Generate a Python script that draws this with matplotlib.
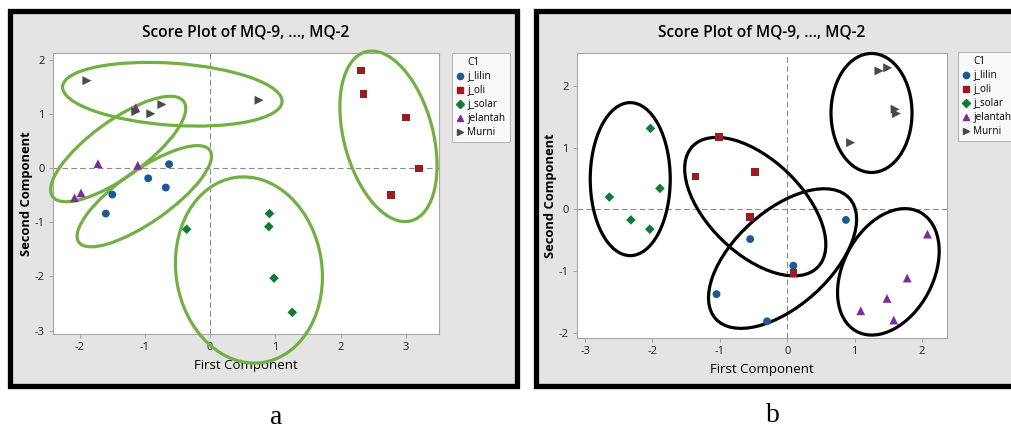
import matplotlib
matplotlib.use("Agg")
import matplotlib.pyplot as plt
from matplotlib.patches import Rectangle, Ellipse
from matplotlib.lines import Line2D
from matplotlib.transforms import ScaledTranslation

# ---- data: panel a -------------------------------------------------------
a_lilin_x = [-0.63, -0.95, -0.68, -1.50, -1.60]
a_lilin_y = [0.07, -0.19, -0.36, -0.49, -0.84]
a_oli_x = [2.31, 2.35, 3.00, 3.20, 2.77]
a_oli_y = [1.80, 1.36, 0.93, -0.01, -0.50]
a_solar_x = [-0.36, 0.91, 0.90, 0.98, 1.26]
a_solar_y = [-1.13, -0.84, -1.08, -2.03, -2.66]
a_jelantah_x = [-1.14, -1.72, -1.11, -1.98, -2.08]
a_jelantah_y = [1.11, 0.08, 0.05, -0.46, -0.55]
a_murni_x = [-1.89, -1.14, -0.91, -0.74, 0.75]
a_murni_y = [1.61, 1.04, 1.00, 1.17, 1.25]

# ---- data: panel b -------------------------------------------------------
b_lilin_x = [0.87, -0.55, 0.09, -1.05, -0.30]
b_lilin_y = [-0.17, -0.48, -0.91, -1.37, -1.81]
b_oli_x = [-1.01, -1.36, -0.48, -0.55, 0.09]
b_oli_y = [1.17, 0.53, 0.61, -0.12, -1.03]
b_solar_x = [-2.03, -2.64, -1.89, -2.32, -2.04]
b_solar_y = [1.31, 0.20, 0.34, -0.17, -0.32]
b_jelantah_x = [2.08, 1.78, 1.48, 1.09, 1.58]
b_jelantah_y = [-0.40, -1.11, -1.44, -1.64, -1.79]
b_murni_x = [1.36, 1.49, 1.60, 1.62, 0.94]
b_murni_y = [2.24, 2.29, 1.62, 1.55, 1.08]

groups = ["j_lilin", "j_oli", "j_solar", "jelantah", "Murni"]
title = "Score Plot of MQ-9, ..., MQ-2"

# group ellipses: centre (data), width/height (px), angle (deg)
ellipses_a = [(-0.58, 1.36, 220, 62, -4), (-1.41, 0.35, 162, 56, 36),
              (-1.01, -0.52, 160, 52, 35), (0.595, -1.88, 146, 187, 8.6),
              (2.735, 0.584, 89, 175, 15)]
ellipses_b = [(-2.33, 0.49, 80, 153, 0), (-0.475, 0.045, 174, 94, -44),
              (-0.07, -0.795, 180, 95, 42), (1.25, 1.56, 81, 119, 0),
              (1.50, -1.01, 90, 135, -28)]

styles = {
    "j_lilin": dict(marker="o", color="#1b5a94"),
    "j_oli": dict(marker="s", color="#9b1c1f"),
    "j_solar": dict(marker="D", color="#117a3b"),
    "jelantah": dict(marker="^", color="#7b2b9b"),
    "Murni": dict(marker=">", color="#4a4a4a"),
}
sizes = {"o": 32, "s": 30, "D": 24, "^": 40, ">": 42}

plt.rcParams["font.family"] = ["Open Sans", "DejaVu Sans"]

W, H = 1011, 428
fig = plt.figure(figsize=(W / 100, H / 100), dpi=100)
fig.patch.set_facecolor("white")


def box(x0, y0, x1, y1):
    return [x0 / W, 1 - y1 / H, (x1 - x0) / W, (y1 - y0) / H]


# grey panels with thick black frames
for (x0, y0, x1, y1) in [(10, 11, 517, 386), (536, 11, 1015, 386)]:
    r = box(x0, y0, x1, y1)
    fig.patches.append(Rectangle((r[0], r[1]), r[2], r[3], transform=fig.transFigure,
                                 facecolor="#e4e4e4", edgecolor="black", lw=3.8,
                                 zorder=-5))


def panel(ax, xs, ys, ells, ecolor, xlim, ylim, xticks, yticks):
    ax.set_facecolor("white")
    ax.axhline(0, color="#8a8a8a", lw=0.8, ls=(0, (5, 3)), zorder=1)
    ax.axvline(0, color="#8a8a8a", lw=0.8, ls=(0, (5, 3)), zorder=1)
    for (cx, cy, w, h, ang) in ells:
        tr = fig.dpi_scale_trans + ScaledTranslation(cx, cy, ax.transData)
        ax.add_patch(Ellipse((0, 0), w / 100, h / 100, angle=ang, transform=tr,
                             fill=False, edgecolor=ecolor, lw=2.3, clip_on=False,
                             zorder=3))
    for g, x, y in zip(groups, xs, ys):
        st = styles[g]
        ax.scatter(x, y, marker=st["marker"], s=sizes[st["marker"]], c=st["color"],
                   edgecolors="none", zorder=4, clip_on=False)
    ax.set_xlim(*xlim)
    ax.set_ylim(*ylim)
    ax.set_xticks(xticks)
    ax.set_yticks(yticks)
    ax.set_xticklabels([str(t) for t in xticks])
    ax.set_yticklabels([str(t) for t in yticks])
    ax.tick_params(labelsize=8, length=3, width=0.6, color="#999999",
                   labelcolor="#222222", pad=3)
    for s in ax.spines.values():
        s.set_color("#a8a8a8")
        s.set_linewidth(0.8)
    ax.set_title(title, fontsize=11.2, fontweight="semibold", pad=12)
    ax.set_xlabel("First Component", fontsize=9.5, labelpad=4)
    ax.set_ylabel("Second Component", fontsize=9.3, fontweight="bold", labelpad=1)


def legend(ax, x0, y0):
    handles = [Line2D([], [], ls="none", marker="none", label="C1")]
    for g in groups:
        st = styles[g]
        handles.append(Line2D([], [], ls="none", marker=st["marker"], color=st["color"],
                              markersize=4.5, label=g))
    leg = ax.legend(handles=handles, loc="upper left",
                    bbox_to_anchor=(x0 / W, 1 - y0 / H), bbox_transform=fig.transFigure,
                    fontsize=7.2, frameon=True, fancybox=False, borderpad=0.4,
                    labelspacing=0.3, handlelength=0.8, handletextpad=0.35,
                    borderaxespad=0)
    leg.get_frame().set_edgecolor("#a8a8a8")
    leg.get_frame().set_linewidth(0.8)


ax_a = fig.add_axes(box(53, 53, 439, 334))
panel(ax_a, [a_lilin_x, a_oli_x, a_solar_x, a_jelantah_x, a_murni_x],
      [a_lilin_y, a_oli_y, a_solar_y, a_jelantah_y, a_murni_y],
      ellipses_a, "#72b043", (-2.41, 3.51), (-3.06, 2.12),
      [-2, -1, 0, 1, 2, 3], [-3, -2, -1, 0, 1, 2])
legend(ax_a, 452, 53)

ax_b = fig.add_axes(box(577, 53, 947, 338))
panel(ax_b, [b_lilin_x, b_oli_x, b_solar_x, b_jelantah_x, b_murni_x],
      [b_lilin_y, b_oli_y, b_solar_y, b_jelantah_y, b_murni_y],
      ellipses_b, "black", (-3.12, 2.37), (-2.08, 2.53),
      [-3, -2, -1, 0, 1, 2], [-2, -1, 0, 1, 2])
legend(ax_b, 958, 52)

fig.text(276 / W, 1 - 417 / H, "a", family="Liberation Serif", fontsize=20,
         ha="center", va="center")
fig.text(773 / W, 1 - 416 / H, "b", family="Liberation Serif", fontsize=20,
         ha="center", va="center")

fig.savefig("out.png", dpi=100)
